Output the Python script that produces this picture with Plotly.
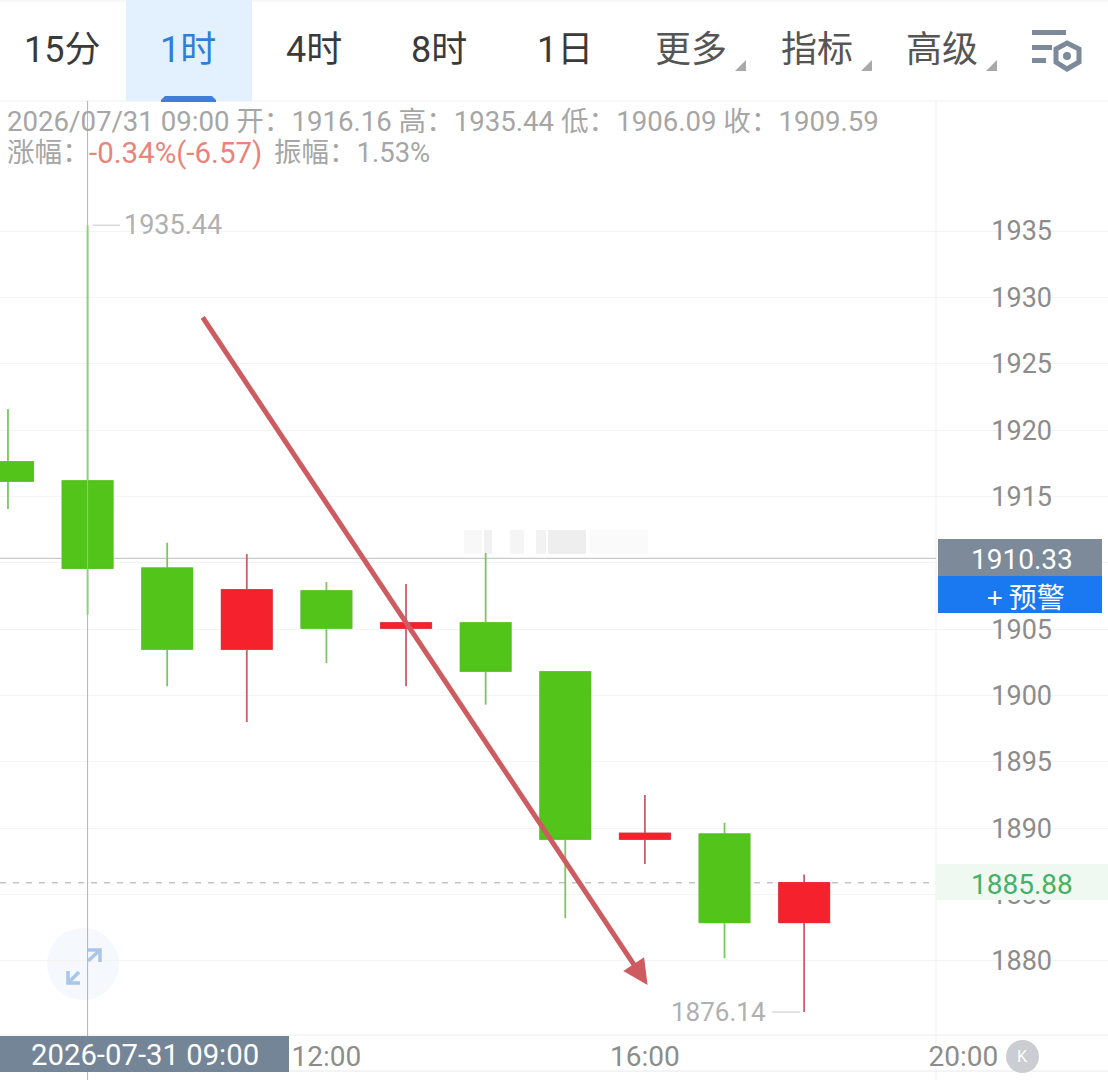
import plotly.graph_objects as go

# ---- data ----
times = ["2026-07-31 08:00", "2026-07-31 09:00", "2026-07-31 10:00", "2026-07-31 11:00",
         "2026-07-31 12:00", "2026-07-31 13:00", "2026-07-31 14:00", "2026-07-31 15:00",
         "2026-07-31 16:00", "2026-07-31 17:00", "2026-07-31 18:00"]
opens = [1917.60, 1916.16, 1909.59, 1903.50, 1907.87, 1905.08, 1905.46, 1901.77, 1889.18, 1889.55, 1882.90]
highs = [1921.59, 1935.44, 1911.50, 1910.66, 1908.55, 1908.40, 1910.73, 1901.77, 1892.50, 1890.40, 1886.50]
lows = [1914.05, 1906.09, 1900.70, 1898.00, 1902.45, 1900.70, 1899.30, 1883.20, 1887.30, 1880.20, 1876.14]
closes = [1916.16, 1909.59, 1903.50, 1907.95, 1905.08, 1905.46, 1901.84, 1889.18, 1889.60, 1882.90, 1885.88]
y_ticks = [1880, 1885, 1890, 1895, 1900, 1905, 1910, 1915, 1920, 1925, 1930, 1935]
y_tick_shown = [1880, 1885, 1890, 1895, 1900, 1905, 1915, 1920, 1925, 1930, 1935]
x_ticks = ["2026-07-31 12:00", "2026-07-31 16:00", "2026-07-31 20:00"]
x_tick_labels = ["12:00", "16:00", "20:00"]
tabs = ["15分", "1时", "4时", "8时", "1日", "更多", "指标", "高级"]
tab_centres = [62, 188, 314, 439, 565, 691, 817, 942]
selected_time = "2026-07-31 09:00"
high_value, low_value = 1935.44, 1876.14
crosshair_price, last_price = 1910.33, 1885.88
arrow_start = ("2026-07-31 10:26", 1928.60)
arrow_end = ("2026-07-31 16:02", 1878.18)

W, H = 1108, 1080
PLOT_TOP, PLOT_BOTTOM, PLOT_RIGHT = 101, 1035, 936
FONT = "Roboto, 'Noto Sans CJK SC', sans-serif"
CJK = "'Noto Sans CJK SC', sans-serif"
GREEN, RED = "#52C41A", "#F5222D"
GREEN_WICK, RED_WICK = "#7DC763", "#C9606A"
LABEL = "#8C8C8C"

px = lambda x: x / W
py = lambda y: 1 - y / H


def path(points, close=False):
    s = "M " + " L ".join(f"{px(x):.5f},{py(y):.5f}" for x, y in points)
    return s + (" Z" if close else "")


def rect(x0, y0, x1, y1, fill, layer="above"):
    return dict(type="rect", xref="paper", yref="paper", x0=px(x0), x1=px(x1), y0=py(y0), y1=py(y1),
                fillcolor=fill, line_width=0, layer=layer)


def hline(x0, x1, y, color, width=1, dash="solid", layer="below"):
    return dict(type="line", xref="paper", yref="paper", x0=px(x0), x1=px(x1), y0=py(y), y1=py(y),
                line=dict(color=color, width=width, dash=dash), layer=layer)


def stroke(points, color, width, layer="above", close=False, fill=None):
    return dict(type="path", xref="paper", yref="paper", path=path(points, close),
                line=dict(color=color, width=width), fillcolor=fill, layer=layer)


def label(x, y, text, size, color, anchor="center", family=FONT):
    return dict(xref="paper", yref="paper", x=px(x), y=py(y), text=text, showarrow=False,
                xanchor=anchor, yanchor="middle", font=dict(size=size, color=color, family=family))


fig = go.Figure()
# wicks underneath, bodies on top
fig.add_trace(go.Candlestick(x=times, open=opens, high=highs, low=lows, close=closes, whiskerwidth=0,
                             increasing=dict(line=dict(color=RED_WICK, width=1.8), fillcolor=RED),
                             decreasing=dict(line=dict(color=GREEN_WICK, width=1.8), fillcolor=GREEN),
                             showlegend=False, hoverinfo="skip"))
fig.add_trace(go.Candlestick(x=times, open=opens, high=opens, low=closes, close=closes, whiskerwidth=0,
                             increasing=dict(line=dict(color=RED, width=1), fillcolor=RED),
                             decreasing=dict(line=dict(color=GREEN, width=1), fillcolor=GREEN),
                             showlegend=False, hoverinfo="skip"))

shapes = [
    # white price panel over the gridlines, leaving the short stubs at both edges
    rect(948, PLOT_TOP, 1095, PLOT_BOTTOM, "white", layer="below"),
    rect(PLOT_RIGHT, PLOT_TOP, 1108, 200, "white", layer="below"),
    # header
    rect(126, 0, 252, 101, "#E3F0FD"),
    dict(type="path", xref="paper", yref="paper", layer="above", fillcolor="#3F7FD9", line_width=0,
         path=path([(161, 102), (161, 100), (165, 96), (212, 96), (216, 100), (216, 102)], True)),
    hline(0, W, 1, "#EFEFEF"),
    hline(0, W, PLOT_TOP, "#F0F0F0"),
    hline(0, W, PLOT_BOTTOM, "#EDEDED"),
    hline(0, W, 1071, "#E8E8E8"),
    dict(type="line", xref="paper", yref="paper", x0=px(PLOT_RIGHT), x1=px(PLOT_RIGHT), y0=0, y1=py(PLOT_TOP),
         line=dict(color="#EFEFEF", width=1), layer="below"),
    # crosshair and price lines
    dict(type="line", xref="x", yref="paper", x0=selected_time, x1=selected_time, y0=0, y1=py(PLOT_TOP),
         line=dict(color="#B4B4B4", width=1), layer="above"),
    dict(type="line", xref="paper", yref="y", x0=0, x1=px(PLOT_RIGHT), y0=crosshair_price, y1=crosshair_price,
         line=dict(color="#C9C9C9", width=1.2), layer="below"),
    dict(type="line", xref="paper", yref="y", x0=0, x1=px(PLOT_RIGHT), y0=last_price, y1=last_price,
         line=dict(color="#A8A8A8", width=1, dash="6px,7px"), layer="below"),
    # high / low leader lines
    dict(type="line", xref="paper", yref="y", x0=px(93), x1=px(120), y0=high_value, y1=high_value,
         line=dict(color="#D0D0D0", width=1.2), layer="above"),
    dict(type="line", xref="paper", yref="y", x0=px(772), x1=px(800), y0=low_value, y1=low_value,
         line=dict(color="#D0D0D0", width=1.2), layer="above"),
    # price badges
    rect(936, 864, 1108, 900, "#F0F8F2"),
    rect(938, 539, 1102, 576, "#7C8A99"),
    rect(938, 576, 1102, 613, "#1A78F0"),
    # date badge
    rect(0, 1036, 289, 1072, "#738596"),
    # settings icon
    rect(1032, 30, 1066, 35, "#7C8A99"),
    rect(1032, 45, 1052, 50, "#7C8A99"),
    rect(1032, 58, 1046, 63, "#7C8A99"),
    stroke([(1067, 43), (1079, 49), (1079, 62), (1067, 69), (1056, 62), (1056, 49)], "#7C8A99", 5, close=True,
           fill="white"),
    dict(type="circle", xref="paper", yref="paper", x0=px(1063), x1=px(1071), y0=py(52), y1=py(60),
         fillcolor="#7C8A99", line_width=0, layer="above"),
    # K badge
    dict(type="circle", xref="paper", yref="paper", x0=px(1006), x1=px(1039), y0=py(1040), y1=py(1073),
         fillcolor="#CBCDD2", line_width=0, layer="above"),
    # expand button
    dict(type="circle", xref="paper", yref="paper", x0=px(47), x1=px(119), y0=py(928), y1=py(1000),
         fillcolor="rgba(236,242,251,0.55)", line_width=0, layer="below"),
    stroke([(88, 961), (100, 950)], "#A9C6E8", 3.5),
    stroke([(88, 950), (100, 950), (100, 962)], "#A9C6E8", 3.5),
    stroke([(68, 983), (79, 972)], "#A9C6E8", 3.5),
    stroke([(68, 971), (68, 983), (80, 983)], "#A9C6E8", 3.5),
]
# triangles by the drop-down tabs
for tx in (741, 867, 992):
    shapes.append(dict(type="path", xref="paper", yref="paper", layer="above", fillcolor="#A9A9A9", line_width=0,
                       path=path([(tx + 5, 60), (tx + 5, 71), (tx - 6, 71)], True)))
# blurred watermark remnants above the price line
for x0, x1, col in [(464, 482, "#F8F8F8"), (484, 492, "#F1F1F1"), (510, 524, "#F5F5F5"), (536, 546, "#F2F2F2"),
                    (548, 586, "#EEEEEE"), (590, 648, "#FAFAFA")]:
    shapes.append(rect(x0, 530, x1, 554, col, layer="below"))

annotations = [label(c, 50, t, 36, "#2F7FD6" if t == "1时" else ("#3A3A3A" if i < 5 else "#555555"))
               for i, (c, t) in enumerate(zip(tab_centres, tabs))]
annotations += [
    label(5, 121, "2026/07/31 09:00 开：1916.16 高：1935.44 低：1906.09 收：1909.59", 27.6, "#A6A6A6", "left"),
    label(5, 153, "涨幅：", 27.6, "#A6A6A6", "left"),
    label(87, 153, "-0.34%(-6.57)", 29.5, "#E8847C", "left"),
    label(272, 153, "振幅：1.53%", 27.5, "#A6A6A6", "left"),
    dict(xref="paper", yref="y", x=px(122), y=high_value, text=f"{high_value:.2f}", showarrow=False, xanchor="left",
         font=dict(size=27, color="#B0B0B0", family=FONT)),
    dict(xref="paper", yref="y", x=px(768), y=low_value, text=f"{low_value:.2f}", showarrow=False, xanchor="right",
         font=dict(size=26, color="#B0B0B0", family=FONT)),
    label(1022, 559, f"{crosshair_price:.2f}", 28, "white"),
    label(1026, 596, "+ 预警", 28, "white", family=CJK),
    label(1022, 884, f"{last_price:.2f}", 28, "#45B068"),
    label(145, 1055, "2026-07-31 09:00", 29.3, "white"),
    label(1022.5, 1056, "K", 16, "white"),
    # trend arrow
    dict(x=arrow_end[0], y=arrow_end[1], ax=arrow_start[0], ay=arrow_start[1], xref="x", yref="y",
         axref="x", ayref="y", text="", showarrow=True, arrowhead=2, arrowsize=1.0, arrowwidth=5,
         arrowcolor="#CD5B60"),
]

fig.update_layout(
    width=W, height=H, margin=dict(l=0, r=0, t=0, b=0), paper_bgcolor="white", plot_bgcolor="white",
    showlegend=False, shapes=shapes, annotations=annotations, boxmode="overlay", boxgap=0.096,
    xaxis=dict(type="date", range=["2026-07-31 07:54", "2026-07-31 21:49"], rangeslider=dict(visible=False),
               tickmode="array", tickvals=x_ticks, ticktext=x_tick_labels, showgrid=False, zeroline=False,
               ticks="", showline=False, tickfont=dict(size=28, color=LABEL, family=FONT), ticklabelstandoff=2),
    yaxis=dict(domain=[py(PLOT_BOTTOM), py(PLOT_TOP)], range=[1874.41, 1944.8], side="right",
               ticklabelposition="inside", tickmode="array", tickvals=y_ticks,
               ticktext=[str(v) if v in y_tick_shown else "" for v in y_ticks], showgrid=True,
               gridcolor="#F4F4F4", gridwidth=1, zeroline=False, ticks="", showline=False,
               tickfont=dict(size=27, color=LABEL, family=FONT), ticklabelstandoff=53),
)

fig.write_html("out.html", config=dict(displayModeBar=False),
               post_script="document.body.style.margin='0';document.body.style.overflow='hidden';")
